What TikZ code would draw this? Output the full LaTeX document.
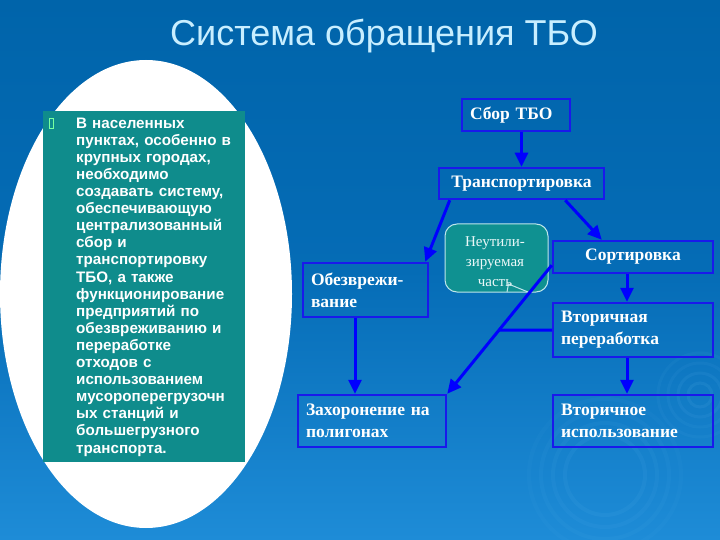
\documentclass[tikz,border=0pt]{standalone}
\usepackage{fontspec}
\setmainfont{Liberation Serif}
\newfontfamily\arialf{Liberation Sans}
\usetikzlibrary{arrows.meta,calc}
\definecolor{bgtop}{RGB}{0,100,170}
\definecolor{bgmid}{RGB}{5,108,182}
\definecolor{bgbot}{RGB}{30,140,215}
\definecolor{tealbox}{RGB}{15,140,140}
\definecolor{boxblue}{RGB}{25,25,235}
\definecolor{arrblue}{RGB}{0,0,255}
\definecolor{titlecol}{RGB}{200,238,255}
\definecolor{bulletcol}{RGB}{120,255,160}
\definecolor{callteal}{RGB}{15,145,145}
\definecolor{callline}{RGB}{190,230,235}
\definecolor{calltext}{RGB}{235,248,248}
\definecolor{swirl}{RGB}{120,200,250}
\begin{document}
\begin{tikzpicture}[x=1pt,y=-1pt,
 stagebox/.style={draw=boxblue, line width=2.5pt, text=white,
   font=\bfseries\fontsize{17.5}{22}\selectfont, inner xsep=8pt, inner ysep=0pt},
 link/.style={draw=arrblue, line width=3pt},
 arrowlink/.style={link, -{Triangle[length=14pt,width=13pt]}}
]
\useasboundingbox (0,0) rectangle (720,540);
\shade[top color=bgtop, bottom color=bgbot, middle color=bgmid] (0,0) rectangle (720,540);
% faint swirls
\begin{scope}
\clip (0,0) rectangle (720,540);
\foreach \r/\o in {12/0.09,22/0.08,32/0.06,42/0.05}{
  \draw[swirl, opacity=\o, line width=3pt] (700,395) circle (\r);
}
\foreach \r/\o in {40/0.07,52/0.06,64/0.05,76/0.04}{
  \draw[swirl, opacity=\o, line width=4pt] (605,475) circle (\r);
}
\end{scope}
% white ellipse
\fill[white] (146,294) ellipse [x radius=146, y radius=234];
% teal text box
\node[fill=tealbox, minimum width=202pt, minimum height=351pt, anchor=north west, inner sep=0pt] (note) at (43,111) {};
\node[draw=bulletcol, line width=0.8pt, minimum width=4pt, minimum height=10pt, inner sep=0pt] (bul) at (51,123.5) {};
\node[anchor=north west, inner sep=0pt, text width=175pt, align=left, text=white,
  font=\arialf\bfseries\fontsize{15.2}{17.1}\selectfont] (notetext) at (76,117.5)
{В населенных\\
пунктах, особенно в\\
крупных городах,\\
необходимо\\
создавать систему,\\
обеспечивающую\\
централизованный\\
сбор и\\
транспортировку\\
ТБО, а также\\
функционирование\\
предприятий по\\
обезвреживанию и\\
переработке\\
отходов с\\
использованием\\
мусороперегрузочн\\
ых станций и\\
большегрузного\\
транспорта.};
% title
\node[text=titlecol, font=\arialf\fontsize{36}{40}\selectfont] (title) at (384,36) {Система обращения ТБО};
% stage boxes
\node[stagebox, text width=92pt, minimum height=32pt, align=left] (sbor) at (516,115) {Сбор ТБО};
\node[stagebox, text width=149pt, minimum height=31pt, align=center] (trans) at (521.5,183.5) {Транспортировка};
\node[stagebox, text width=109pt, minimum height=54pt, align=left] (obez) at (365.5,290) {Обезврежи-\\вание};
\node[stagebox, text width=144pt, minimum height=32pt, align=center] (sort) at (633,257) {Сортировка};
\node[stagebox, text width=144pt, minimum height=54pt, align=left] (vtp) at (633,330) {Вторичная\\переработка};
\node[stagebox, text width=132pt, minimum height=52pt, align=left] (zah) at (372,421) {Захоронение на\\полигонах};
\node[stagebox, text width=144pt, minimum height=52pt, align=left] (vti) at (633,421) {Вторичное\\использование};
% callout
\node[draw=callline, fill=callteal, rounded corners=12pt, line width=1pt,
  minimum width=103pt, minimum height=68pt, inner sep=0pt] (neut) at (496.5,258) {};
\draw[callline, line width=1pt] (507,292) -- (508.5,284) -- (528,292);
\node[text=calltext, font=\fontsize{15}{20}\selectfont, align=center, inner sep=0pt] (neuttext) at (495,261.5) {Неутили-\\зируемая\\часть};
% connectors
\draw[arrowlink] (sbor.south -| trans.north) -- (trans.north);
\draw[arrowlink] ([xshift=12pt]trans.south west) -- ([xshift=-4pt]obez.north east);
\draw[arrowlink] ([xshift=-40pt]trans.south east) -- ([xshift=50pt]sort.north west);
\draw[arrowlink] ([xshift=-6pt]sort.south) -- ([xshift=-6pt]vtp.north);
\draw[arrowlink] ([xshift=-10.5pt]obez.south) -- ([xshift=-10.5pt]obez.south |- zah.north);
\draw[arrowlink] ([xshift=-6pt]vtp.south) -- ([xshift=-6pt]vti.north);
\coordinate (ds) at ([yshift=9pt]sort.south west);
\draw[arrowlink] (ds) -- (zah.north east);
\coordinate (dj) at (intersection of ds--zah.north east and vtp.west--vtp.east);
\draw[link] (vtp.west) -- (dj);
\end{tikzpicture}
\end{document}
